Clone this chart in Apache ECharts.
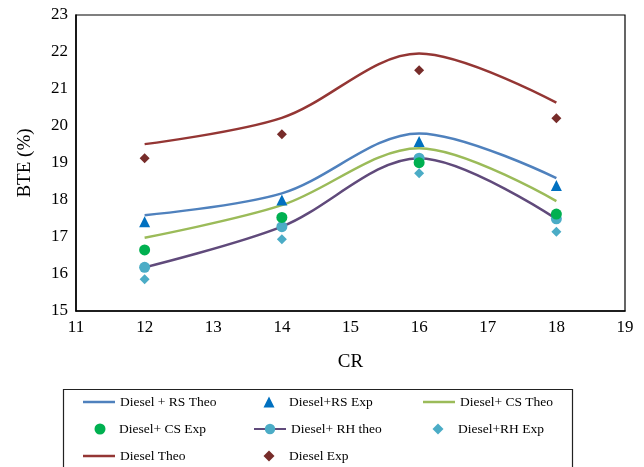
<!DOCTYPE html>
<html>
<head>
<meta charset="utf-8">
<script src="https://cdn.jsdelivr.net/npm/echarts@6/dist/echarts.min.js"></script>
<style>
  html, body { margin: 0; padding: 0; background: #fff; }
  #chart { width: 644px; height: 467px; }
</style>
</head>
<body>
<div id="chart"></div>
<script>
// Compression ratio values on the x axis
const cr = [12, 14, 16, 18];

// Brake thermal efficiency (%) per blend
const rsTheo = [17.59, 18.18, 19.80, 18.59];
const rsExp = [17.41, 18.00, 19.58, 18.39];
const csTheo = [16.98, 17.86, 19.40, 17.97];
const csExp = [16.65, 17.53, 19.01, 17.62];
const rhTheo = [16.18, 17.28, 19.13, 17.49];
const rhExp = [15.86, 16.94, 18.72, 17.14];
const dieselTheo = [19.51, 20.22, 21.96, 20.63];
const dieselExp = [19.13, 19.78, 21.51, 20.21];

const pairs = ys => cr.map((x, i) => [x, ys[i]]);
const serif = '"Liberation Serif", "DejaVu Serif", serif';

const lineSeries = (name, data, color, extra) => Object.assign({
  name, type: 'line', data: pairs(data), smooth: 0.33,
  symbol: 'none', lineStyle: { color, width: 2.5 }, itemStyle: { color }, z: 2
}, extra || {});

const pointSeries = (name, data, color, symbol, size) => ({
  name, type: 'scatter', data: pairs(data), symbol, symbolSize: size,
  itemStyle: { color, opacity: 1 }, z: 3
});

// Legend entries are laid out one by one in a three-column grid
const legendBase = (name, left, top, w, h, padLeft, icon) => ({
  data: [icon ? { name, icon } : name], left, top, padding: 0,
  itemWidth: w, itemHeight: h, itemGap: 0, selectedMode: false,
  textStyle: { fontFamily: serif, fontSize: 13.5, color: '#000', padding: [0, 0, 0, padLeft] }
});
const lineLegend = (name, left, cy) => legendBase(name, left, cy - 8, 32, 2.5, 0, 'rect');
const markLegend = (name, cx, textX, cy, size) =>
  legendBase(name, cx - size / 2, cy - 8, size, size, textX - (cx + size / 2 + 5));

const rows = [403, 430, 457];

const chart = echarts.init(document.getElementById('chart'));
chart.setOption({
  animation: false,
  grid: { left: 76, right: 19, top: 15, bottom: 156, show: true, borderColor: '#000', borderWidth: 1.2 },
  xAxis: {
    type: 'value', min: 11, max: 19, interval: 1,
    name: 'CR', nameLocation: 'middle', nameGap: 42,
    nameTextStyle: { fontFamily: serif, fontSize: 19, color: '#000' },
    axisLine: { show: true, lineStyle: { color: '#000', width: 1.5 } },
    axisTick: { show: false }, splitLine: { show: false },
    axisLabel: { fontFamily: serif, fontSize: 17, color: '#000', margin: 8 }
  },
  yAxis: {
    type: 'value', min: 15, max: 23, interval: 1,
    name: 'BTE (%)', nameLocation: 'middle', nameGap: 41,
    nameTextStyle: { fontFamily: serif, fontSize: 19, color: '#000' },
    axisLine: { show: true, lineStyle: { color: '#000', width: 1.5 } },
    axisTick: { show: false }, splitLine: { show: false },
    axisLabel: { fontFamily: serif, fontSize: 17, color: '#000', margin: 8 }
  },
  graphic: [{
    type: 'rect', left: 61, top: 387,
    shape: { width: 509, height: 90 },
    style: { fill: 'none', stroke: '#222', lineWidth: 1.2 }
  }],
  legend: [
    lineLegend('Diesel + RS Theo', 83, rows[0]),
    markLegend('Diesel+RS Exp', 269, 289, rows[0], 11),
    lineLegend('Diesel+ CS Theo', 423, rows[0]),
    markLegend('Diesel+ CS Exp', 100, 119, rows[1], 11),
    legendBase('Diesel+ RH theo', 253, rows[1] - 8, 32, 13, 0),
    markLegend('Diesel+RH Exp', 438, 458, rows[1], 11),
    lineLegend('Diesel Theo', 83, rows[2]),
    markLegend('Diesel Exp', 269, 289, rows[2], 11)
  ],
  series: [
    lineSeries('Diesel + RS Theo', rsTheo, '#4F81BD'),
    pointSeries('Diesel+RS Exp', rsExp, '#0070C0', 'triangle', 11),
    lineSeries('Diesel+ CS Theo', csTheo, '#9BBB59'),
    pointSeries('Diesel+ CS Exp', csExp, '#00B050', 'circle', 11),
    lineSeries('Diesel+ RH theo', rhTheo, '#604A7B', {
      symbol: 'circle', symbolSize: 11, showSymbol: true,
      itemStyle: { color: '#4BACC6' }
    }),
    pointSeries('Diesel+RH Exp', rhExp, '#4BACC6', 'diamond', 10),
    lineSeries('Diesel Theo', dieselTheo, '#943634'),
    pointSeries('Diesel Exp', dieselExp, '#772C2A', 'diamond', 10)
  ]
});
</script>
</body>
</html>
